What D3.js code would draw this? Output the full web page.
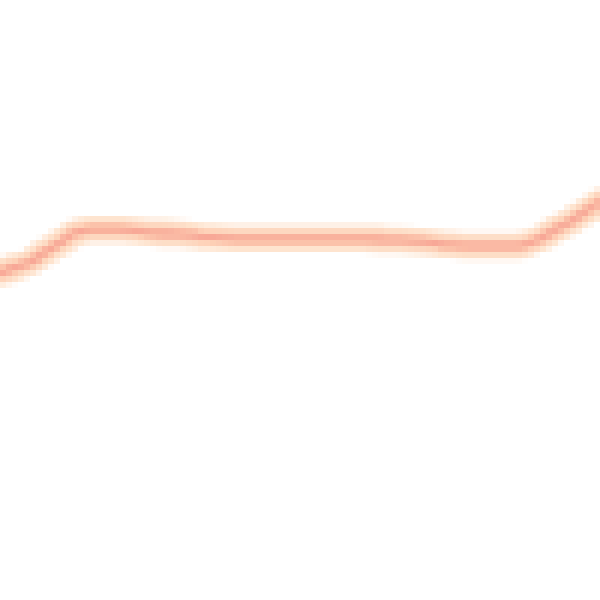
<!DOCTYPE html>
<html>
<head>
<meta charset="utf-8">
<script src="https://cdn.jsdelivr.net/npm/d3@7"></script>
<style>
  html, body { margin: 0; padding: 0; background: #fff; }
  #chart { width: 600px; height: 600px; image-rendering: pixelated; display: block; }
</style>
</head>
<body>
<canvas id="chart" width="100" height="100"></canvas>
<script>
// step index along the line and its value
var steps = [0, 0.5, 1, 1.5, 2, 2.5, 3, 4, 5, 6, 7, 8, 9, 10, 11, 12, 13, 14,
             15, 16, 17, 17.5, 18, 18.5, 19, 19.5, 20];
var values = [54.5, 55.5, 56.3, 58.0, 59.5, 61.2, 61.8, 61.7, 61.3, 61.0, 60.5,
              60.3, 60.2, 60.2, 60.2, 60.2, 60.0, 59.8, 59.2, 59.0, 59.0, 59.3,
              60.2, 61.7, 63.0, 64.7, 66.3];

var size = 100; // low-res canvas, scaled up to 600

var x = d3.scaleLinear().domain([0, 20]).range([0, size]);
var y = d3.scaleLinear().domain([0, 100]).range([size, 0]);

var ctx = document.getElementById("chart").getContext("2d");
ctx.fillStyle = "#fff";
ctx.fillRect(0, 0, size, size);

var data = steps.map(function (s, i) {
  return { s: s, v: values[i] };
});

var line = d3
  .line()
  .x(function (d) { return x(d.s); })
  .y(function (d) { return y(d.v); })
  .curve(d3.curveMonotoneX)
  .context(ctx);

ctx.lineJoin = "round";
ctx.lineCap = "round";

// soft outer glow
ctx.beginPath();
line(data);
ctx.strokeStyle = "rgba(254, 216, 186, 0.7)";
ctx.lineWidth = 4.6;
ctx.stroke();

// middle band
ctx.beginPath();
line(data);
ctx.strokeStyle = "rgba(252, 196, 168, 0.75)";
ctx.lineWidth = 2.6;
ctx.stroke();

// core
ctx.beginPath();
line(data);
ctx.strokeStyle = "rgba(246, 156, 142, 0.75)";
ctx.lineWidth = 1.1;
ctx.stroke();
</script>
</body>
</html>
